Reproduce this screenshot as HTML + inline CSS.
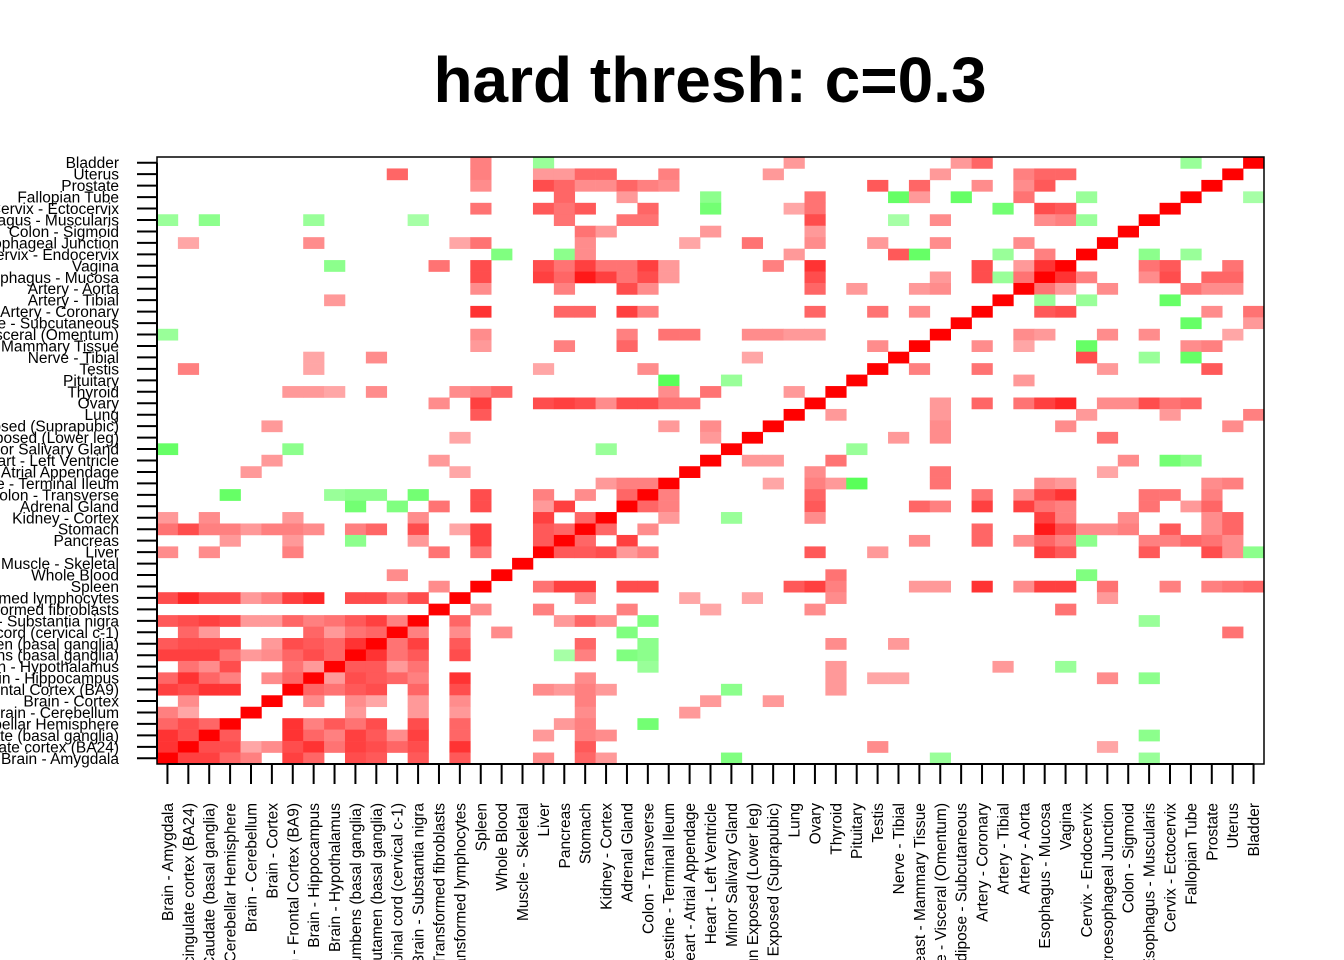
<!DOCTYPE html>
<html><head><meta charset="utf-8">
<style>
html,body{margin:0;padding:0;background:#fff;width:1344px;height:960px;overflow:hidden;}
svg{display:block;font-family:"Liberation Sans",Arial,sans-serif;}
</style></head>
<body>
<svg id="chart" width="1344" height="960" viewBox="0 0 1344 960" xmlns="http://www.w3.org/2000/svg" overflow="hidden">
<text x="710" y="102" text-anchor="middle" font-size="64" font-weight="bold" fill="#000">hard thresh: c=0.3</text>
<g id="cells"></g>
<g id="yaxis"></g>
<g id="xaxis"></g>
<rect x="157" y="157" width="1107" height="607" fill="none" stroke="#000" stroke-width="1.5"/>
</svg>
<script>
const tissues = ["Brain - Amygdala","Brain - Anterior cingulate cortex (BA24)","Brain - Caudate (basal ganglia)","Brain - Cerebellar Hemisphere","Brain - Cerebellum","Brain - Cortex","Brain - Frontal Cortex (BA9)","Brain - Hippocampus","Brain - Hypothalamus","Brain - Nucleus accumbens (basal ganglia)","Brain - Putamen (basal ganglia)","Brain - Spinal cord (cervical c-1)","Brain - Substantia nigra","Cells - Transformed fibroblasts","Cells - EBV-transformed lymphocytes","Spleen","Whole Blood","Muscle - Skeletal","Liver","Pancreas","Stomach","Kidney - Cortex","Adrenal Gland","Colon - Transverse","Small Intestine - Terminal Ileum","Heart - Atrial Appendage","Heart - Left Ventricle","Minor Salivary Gland","Skin - Sun Exposed (Lower leg)","Skin - Not Sun Exposed (Suprapubic)","Lung","Ovary","Thyroid","Pituitary","Testis","Nerve - Tibial","Breast - Mammary Tissue","Adipose - Visceral (Omentum)","Adipose - Subcutaneous","Artery - Coronary","Artery - Tibial","Artery - Aorta","Esophagus - Mucosa","Vagina","Cervix - Endocervix","Esophagus - Gastroesophageal Junction","Colon - Sigmoid","Esophagus - Muscularis","Cervix - Ectocervix","Fallopian Tube","Prostate","Uterus","Bladder"];
// [row, col, value] ; row/col are 1-based tissue indices
const cells = [
[53,16,.5],[53,19,-.4],[53,31,.4],[53,39,.4],[53,40,.6],[53,50,-.4],[53,53,1],
[52,12,.6],[52,16,.5],[52,19,.4],[52,20,.4],[52,21,.6],[52,22,.6],[52,25,.5],[52,30,.4],[52,38,.4],[52,42,.5],[52,43,.6],[52,44,.6],[52,52,1],
[51,16,.45],[51,19,.7],[51,20,.6],[51,21,.45],[51,22,.45],[51,23,.6],[51,24,.5],[51,25,.45],[51,35,.65],[51,37,.6],[51,40,.45],[51,42,.45],[51,43,.65],[51,51,1],
[50,20,.6],[50,23,.4],[50,27,-.45],[50,32,.55],[50,36,-.6],[50,37,.4],[50,39,-.6],[50,42,.55],[50,45,-.4],[50,50,1],[50,53,-.35],
[49,16,.55],[49,19,.65],[49,20,.55],[49,21,.65],[49,24,.6],[49,27,-.55],[49,31,.35],[49,32,.55],[49,41,-.55],[49,43,.7],[49,44,.65],[49,49,1],
[48,1,-.4],[48,3,-.45],[48,8,-.4],[48,13,-.35],[48,20,.55],[48,23,.55],[48,24,.55],[48,32,.7],[48,36,-.35],[48,38,.45],[48,43,.45],[48,44,.5],[48,45,-.4],[48,48,1],
[47,21,.55],[47,22,.4],[47,27,.4],[47,32,.4],[47,47,1],
[46,2,.35],[46,8,.45],[46,15,.35],[46,16,.55],[46,21,.45],[46,26,.35],[46,29,.55],[46,32,.45],[46,35,.4],[46,38,.45],[46,42,.45],[46,46,1],
[45,17,-.5],[45,20,-.45],[45,21,.45],[45,31,.4],[45,36,.65],[45,37,-.6],[45,41,-.4],[45,43,.5],[45,45,1],[45,48,-.45],[45,50,-.4],
[44,9,-.45],[44,14,.55],[44,16,.7],[44,19,.7],[44,20,.55],[44,21,.75],[44,22,.55],[44,23,.55],[44,24,.75],[44,25,.4],[44,30,.5],[44,32,.8],[44,40,.7],[44,42,.4],[44,43,.8],[44,44,1],[44,48,.55],[44,49,.65],[44,52,.55],
[43,16,.7],[43,19,.75],[43,20,.6],[43,21,.9],[43,22,.75],[43,23,.55],[43,24,.7],[43,25,.4],[43,32,.7],[43,38,.4],[43,40,.7],[43,41,-.4],[43,42,.55],[43,43,1],[43,44,.8],[43,45,.5],[43,48,.45],[43,49,.7],[43,51,.6],[43,52,.6],
[42,16,.45],[42,20,.5],[42,23,.7],[42,24,.45],[42,32,.6],[42,34,.4],[42,37,.4],[42,38,.45],[42,42,1],[42,43,.55],[42,44,.4],[42,46,.45],[42,50,.55],[42,51,.45],[42,52,.45],
[41,9,.4],[41,41,1],[41,43,-.4],[41,45,-.4],[41,49,-.6],
[40,16,.8],[40,20,.6],[40,21,.6],[40,23,.75],[40,24,.5],[40,32,.6],[40,35,.55],[40,37,.45],[40,40,1],[40,43,.65],[40,44,.7],[40,51,.45],[40,53,.55],
[39,39,1],[39,50,-.6],[39,53,.4],
[38,1,-.4],[38,16,.45],[38,23,.5],[38,25,.55],[38,26,.55],[38,29,.45],[38,30,.45],[38,31,.4],[38,32,.4],[38,38,1],[38,42,.45],[38,43,.4],[38,46,.45],[38,48,.45],[38,52,.35],
[37,16,.4],[37,20,.5],[37,23,.6],[37,35,.45],[37,37,1],[37,40,.45],[37,42,.35],[37,45,-.6],[37,50,.45],[37,51,.5],
[36,8,.35],[36,11,.45],[36,29,.35],[36,36,1],[36,45,.7],[36,48,-.4],[36,50,-.6],
[35,2,.5],[35,8,.35],[35,19,.35],[35,24,.45],[35,35,1],[35,37,.5],[35,40,.55],[35,46,.4],[35,51,.65],
[34,25,-.65],[34,28,-.4],[34,34,1],[34,42,.4],
[33,7,.4],[33,8,.4],[33,9,.35],[33,11,.45],[33,15,.45],[33,16,.5],[33,17,.6],[33,25,.45],[33,27,.55],[33,31,.4],[33,33,1],
[32,14,.45],[32,16,.75],[32,19,.7],[32,20,.75],[32,21,.7],[32,22,.45],[32,23,.7],[32,24,.7],[32,25,.55],[32,26,.55],[32,32,1],[32,38,.4],[32,40,.6],[32,42,.55],[32,43,.75],[32,44,.85],[32,46,.45],[32,47,.45],[32,48,.7],[32,49,.55],[32,50,.6],
[31,16,.65],[31,31,1],[31,33,.4],[31,38,.4],[31,45,.4],[31,49,.4],[31,53,.5],
[30,6,.4],[30,25,.4],[30,27,.45],[30,30,1],[30,38,.45],[30,44,.45],[30,52,.45],
[29,15,.35],[29,27,.4],[29,29,1],[29,36,.4],[29,38,.45],[29,46,.55],
[28,1,-.6],[28,7,-.45],[28,22,-.4],[28,28,1],[28,34,-.4],
[27,6,.4],[27,14,.4],[27,27,1],[27,29,.4],[27,30,.4],[27,33,.55],[27,47,.45],[27,49,-.55],[27,50,-.45],
[26,5,.4],[26,15,.35],[26,26,1],[26,32,.45],[26,38,.55],[26,46,.35],
[25,22,.4],[25,23,.5],[25,24,.5],[25,25,1],[25,30,.35],[25,32,.5],[25,33,.4],[25,34,-.65],[25,38,.55],[25,43,.45],[25,44,.4],[25,51,.45],[25,52,.5],
[24,4,-.6],[24,9,-.4],[24,10,-.45],[24,11,-.45],[24,13,-.55],[24,16,.7],[24,19,.5],[24,21,.45],[24,23,.6],[24,24,1],[24,25,.5],[24,32,.6],[24,40,.55],[24,42,.45],[24,43,.7],[24,44,.8],[24,48,.55],[24,49,.55],[24,51,.5],
[23,10,-.55],[23,12,-.5],[23,14,.55],[23,16,.7],[23,19,.4],[23,20,.75],[23,23,1],[23,24,.6],[23,25,.5],[23,32,.65],[23,37,.6],[23,38,.5],[23,40,.75],[23,42,.75],[23,43,.55],[23,44,.5],[23,48,.55],[23,50,.4],[23,51,.6],
[22,1,.4],[22,3,.45],[22,7,.4],[22,13,.45],[22,19,.75],[22,21,.6],[22,22,1],[22,25,.4],[22,28,-.4],[22,32,.45],[22,43,.75],[22,44,.5],[22,47,.45],[22,51,.45],[22,52,.6],
[21,1,.55],[21,2,.7],[21,3,.5],[21,4,.5],[21,5,.4],[21,6,.5],[21,7,.5],[21,8,.45],[21,10,.5],[21,11,.6],[21,13,.7],[21,15,.35],[21,16,.75],[21,19,.65],[21,20,.6],[21,21,1],[21,22,.6],[21,24,.45],[21,40,.6],[21,43,.9],[21,44,.7],[21,45,.45],[21,46,.45],[21,47,.5],[21,49,.65],[21,51,.45],[21,52,.6],
[20,4,.4],[20,7,.4],[20,10,-.45],[20,13,.4],[20,16,.75],[20,19,.65],[20,20,1],[20,21,.6],[20,23,.75],[20,37,.45],[20,40,.6],[20,42,.45],[20,43,.6],[20,44,.5],[20,45,-.45],[20,48,.5],[20,49,.5],[20,50,.6],[20,51,.55],[20,52,.45],
[19,1,.45],[19,3,.45],[19,7,.5],[19,14,.55],[19,16,.55],[19,19,1],[19,20,.65],[19,21,.65],[19,22,.7],[19,23,.4],[19,24,.5],[19,32,.65],[19,35,.4],[19,43,.75],[19,44,.65],[19,48,.65],[19,51,.7],[19,52,.45],[19,53,-.45],
[18,18,1],
[17,12,.45],[17,17,1],[17,33,.55],[17,45,-.5],
[16,14,.45],[16,16,1],[16,19,.55],[16,20,.75],[16,21,.75],[16,23,.7],[16,24,.7],[16,31,.65],[16,32,.75],[16,33,.5],[16,37,.4],[16,38,.4],[16,40,.8],[16,42,.45],[16,43,.75],[16,44,.75],[16,46,.55],[16,49,.5],[16,51,.5],[16,52,.55],[16,53,.6],
[15,1,.7],[15,2,.85],[15,3,.7],[15,4,.7],[15,5,.4],[15,6,.5],[15,7,.75],[15,8,.85],[15,10,.7],[15,11,.7],[15,12,.5],[15,13,.7],[15,15,1],[15,21,.45],[15,26,.35],[15,29,.35],[15,33,.45],[15,46,.4],
[14,14,1],[14,16,.45],[14,19,.5],[14,23,.5],[14,27,.35],[14,32,.45],[14,44,.55],
[13,1,.65],[13,2,.7],[13,3,.75],[13,4,.7],[13,5,.4],[13,6,.4],[13,7,.6],[13,8,.5],[13,9,.55],[13,10,.65],[13,11,.75],[13,12,.5],[13,13,1],[13,15,.6],[13,20,.4],[13,21,.6],[13,22,.45],[13,24,-.5],[13,48,-.4],
[12,2,.6],[12,3,.4],[12,8,.6],[12,9,.4],[12,10,.55],[12,11,.6],[12,12,1],[12,13,.5],[12,15,.45],[12,17,.45],[12,23,-.5],[12,52,.55],
[11,1,.65],[11,2,.7],[11,3,.7],[11,4,.7],[11,6,.4],[11,7,.7],[11,8,.65],[11,9,.6],[11,10,.8],[11,11,1],[11,12,.55],[11,13,.75],[11,15,.65],[11,21,.6],[11,24,-.45],[11,33,.45],[11,36,.4],
[10,1,.75],[10,2,.75],[10,3,.75],[10,4,.55],[10,5,.4],[10,6,.45],[10,7,.6],[10,8,.7],[10,9,.6],[10,10,1],[10,11,.8],[10,12,.55],[10,13,.65],[10,15,.7],[10,20,-.35],[10,21,.5],[10,23,-.5],[10,24,-.45],
[9,2,.55],[9,3,.45],[9,4,.7],[9,7,.55],[9,8,.4],[9,9,1],[9,10,.65],[9,11,.65],[9,12,.4],[9,13,.55],[9,24,-.4],[9,33,.4],[9,41,.4],[9,44,-.4],
[8,1,.6],[8,2,.8],[8,3,.6],[8,4,.5],[8,6,.45],[8,7,.6],[8,8,1],[8,9,.4],[8,10,.7],[8,11,.65],[8,12,.6],[8,13,.5],[8,15,.8],[8,21,.45],[8,33,.4],[8,35,.35],[8,36,.35],[8,46,.45],[8,48,-.45],
[7,1,.75],[7,2,.7],[7,3,.8],[7,4,.8],[7,7,1],[7,8,.6],[7,9,.55],[7,10,.65],[7,11,.7],[7,13,.6],[7,15,.7],[7,19,.45],[7,20,.4],[7,21,.5],[7,22,.4],[7,28,-.45],[7,33,.4],
[6,2,.45],[6,6,1],[6,8,.45],[6,10,.45],[6,11,.35],[6,13,.4],[6,15,.45],[6,21,.5],[6,27,.4],[6,30,.4],
[5,1,.5],[5,2,.35],[5,5,1],[5,10,.4],[5,13,.4],[5,15,.4],[5,21,.45],[5,26,.4],
[4,1,.6],[4,2,.7],[4,3,.6],[4,4,1],[4,7,.8],[4,8,.5],[4,9,.65],[4,10,.55],[4,11,.7],[4,13,.7],[4,15,.6],[4,20,.4],[4,21,.5],[4,24,-.55],
[3,1,.8],[3,2,.7],[3,3,1],[3,4,.65],[3,7,.8],[3,8,.6],[3,9,.5],[3,10,.75],[3,11,.65],[3,12,.45],[3,13,.75],[3,15,.6],[3,19,.4],[3,21,.5],[3,22,.45],[3,48,-.45],
[2,1,.8],[2,2,1],[2,3,.7],[2,4,.7],[2,5,.35],[2,6,.45],[2,7,.7],[2,8,.8],[2,9,.55],[2,10,.75],[2,11,.7],[2,12,.6],[2,13,.7],[2,15,.8],[2,21,.65],[2,35,.45],[2,46,.35],
[1,1,1],[1,2,.75],[1,3,.75],[1,4,.6],[1,5,.5],[1,7,.75],[1,8,.6],[1,10,.7],[1,11,.65],[1,13,.65],[1,15,.65],[1,19,.45],[1,21,.6],[1,22,.4],[1,28,-.5],[1,38,-.4],[1,48,-.4]
];

const NS = "http://www.w3.org/2000/svg";
const PX0 = 157, PX1 = 1264, PY0 = 157, PY1 = 764;
const n = tissues.length;
const cw = (PX1 - PX0) / n, ch = (PY1 - PY0) / n;
function xPos(col) { return PX0 + (col - 1) * cw; }
function yPos(row) { return PY1 - row * ch; }
function colorFor(v) {
  const a = Math.min(1, Math.abs(v));
  const k = Math.round(255 * (1 - a));
  return v >= 0 ? `rgb(255,${k},${k})` : `rgb(${k},255,${k})`;
}

const gCells = document.getElementById('cells');
cells.forEach(function (c) {
  const r = document.createElementNS(NS, 'rect');
  r.setAttribute('x', xPos(c[1]).toFixed(2));
  r.setAttribute('y', yPos(c[0]).toFixed(2));
  r.setAttribute('width', (cw + 0.3).toFixed(2));
  r.setAttribute('height', (ch + 0.3).toFixed(2));
  r.setAttribute('fill', colorFor(c[2]));
  
  
  gCells.appendChild(r);
});

const gy = document.getElementById('yaxis');
const gx = document.getElementById('xaxis');
const ly = document.createElementNS(NS, 'line');
ly.setAttribute('x1', PX0); ly.setAttribute('x2', PX0);
ly.setAttribute('y1', yPos(1) + ch / 2); ly.setAttribute('y2', yPos(n) + ch / 2);
ly.setAttribute('stroke', '#000'); ly.setAttribute('stroke-width', '2');


gy.appendChild(ly);
const lx = document.createElementNS(NS, 'line');
lx.setAttribute('y1', PY1); lx.setAttribute('y2', PY1);
lx.setAttribute('x1', xPos(1) + cw / 2); lx.setAttribute('x2', xPos(n) + cw / 2);
lx.setAttribute('stroke', '#000'); lx.setAttribute('stroke-width', '2');


gx.appendChild(lx);

tissues.forEach(function (name, i) {
  const idx = i + 1;
  const cy = yPos(idx) + ch / 2;
  const t = document.createElementNS(NS, 'line');
  t.setAttribute('x1', 137); t.setAttribute('x2', PX0);
  t.setAttribute('y1', cy); t.setAttribute('y2', cy);
  t.setAttribute('stroke', '#000'); t.setAttribute('stroke-width', '2');
  
  
  gy.appendChild(t);
  const lab = document.createElementNS(NS, 'text');
  lab.setAttribute('x', 119); lab.setAttribute('y', (cy + 5.5).toFixed(2));
  lab.setAttribute('text-anchor', 'end'); lab.setAttribute('font-size', '15.5');
  lab.textContent = name;
  
  
  gy.appendChild(lab);

  const cx = xPos(idx) + cw / 2;
  const tx = document.createElementNS(NS, 'line');
  tx.setAttribute('x1', cx); tx.setAttribute('x2', cx);
  tx.setAttribute('y1', PY1); tx.setAttribute('y2', 784);
  tx.setAttribute('stroke', '#000'); tx.setAttribute('stroke-width', '2');
  
  
  gx.appendChild(tx);
  const lx2 = document.createElementNS(NS, 'text');
  lx2.setAttribute('transform', `translate(${(cx + 5.5).toFixed(2)},803) rotate(-90)`);
  lx2.setAttribute('text-anchor', 'end'); lx2.setAttribute('font-size', '15.5');
  lx2.textContent = name;
  
  
  gx.appendChild(lx2);
});
</script>
</body></html>
